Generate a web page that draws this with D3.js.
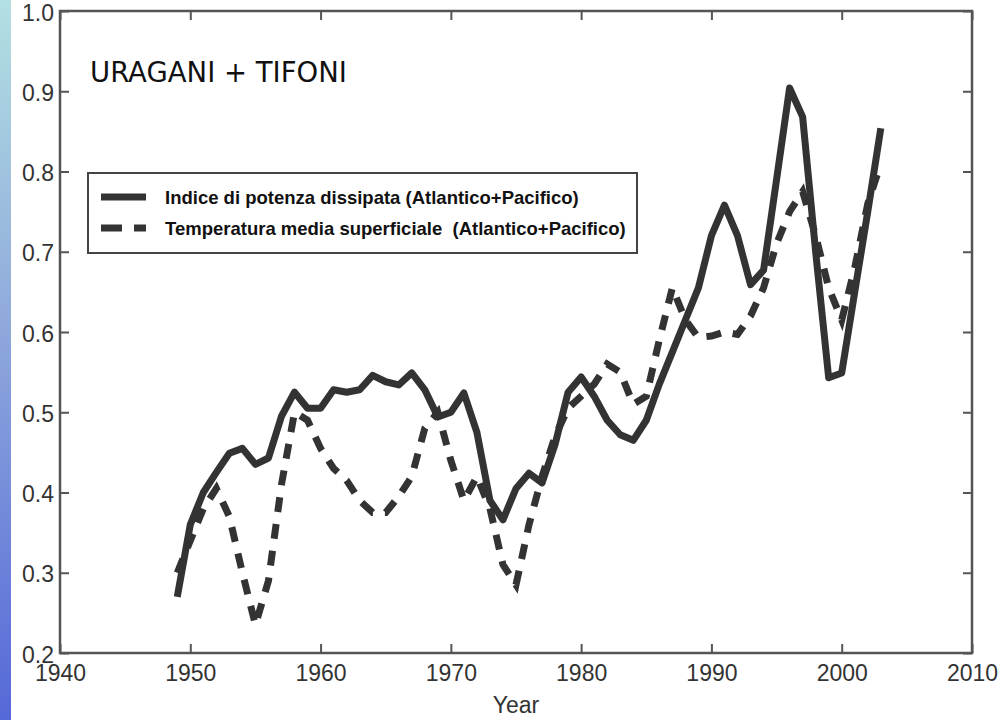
<!DOCTYPE html>
<html>
<head>
<meta charset="utf-8">
<script src="https://cdn.jsdelivr.net/npm/d3@7/dist/d3.min.js"></script>
<style>
  body { margin: 0; background: #fff; }
  .tick text { font-family: "Liberation Sans", Arial, sans-serif; font-size: 23px; fill: #333; }
</style>
</head>
<body>
<div id="chart"></div>
<script>
// data
var years = d3.range(1949, 2004);
var powerIndex = [0.27, 0.36, 0.40, 0.425, 0.449, 0.455, 0.435, 0.443, 0.495, 0.525,
  0.505, 0.505, 0.528, 0.525, 0.528, 0.546, 0.538, 0.534, 0.549, 0.528,
  0.494, 0.50, 0.524, 0.475, 0.39, 0.366, 0.405, 0.424, 0.412, 0.46,
  0.525, 0.544, 0.52, 0.49, 0.472, 0.465, 0.49, 0.535, 0.575, 0.615,
  0.655, 0.72, 0.758, 0.72, 0.659, 0.677, 0.79, 0.904, 0.868, 0.70,
  0.543, 0.549, 0.65, 0.75, 0.854];
var seaTemp = [0.30, 0.34, 0.38, 0.405, 0.37, 0.30, 0.235, 0.29, 0.41, 0.50,
  0.49, 0.455, 0.43, 0.415, 0.39, 0.375, 0.375, 0.395, 0.42, 0.48,
  0.50, 0.44, 0.39, 0.42, 0.38, 0.31, 0.285, 0.36, 0.42, 0.47,
  0.505, 0.52, 0.535, 0.56, 0.55, 0.51, 0.52, 0.59, 0.655, 0.615,
  0.593, 0.595, 0.60, 0.597, 0.62, 0.655, 0.71, 0.75, 0.775, 0.72,
  0.655, 0.615, 0.68, 0.76, 0.81];
var xTicks = [1940, 1950, 1960, 1970, 1980, 1990, 2000, 2010];
var yTicks = [0.2, 0.3, 0.4, 0.5, 0.6, 0.7, 0.8, 0.9, 1.0];
var legendLabels = ["Indice di potenza dissipata (Atlantico+Pacifico)",
  "Temperatura media superficiale  (Atlantico+Pacifico)"];

var width = 1003, height = 720;
var margin = {top: 11, right: 31, bottom: 67, left: 60};

var svg = d3.select("#chart").append("svg")
  .attr("width", width).attr("height", height);

// blue strip on the left
var grad = svg.append("defs").append("linearGradient")
  .attr("id", "strip").attr("x1", 0).attr("y1", 0).attr("x2", 0).attr("y2", 1);
grad.append("stop").attr("offset", "0%").attr("stop-color", "#b3e0e2");
grad.append("stop").attr("offset", "45%").attr("stop-color", "#8fa9dc");
grad.append("stop").attr("offset", "100%").attr("stop-color", "#5568d8");
svg.append("rect").attr("x", 0).attr("y", 0).attr("width", 11).attr("height", height)
  .attr("fill", "url(#strip)");

var x = d3.scaleLinear().domain([1940, 2010]).range([margin.left, width - margin.right]);
var y = d3.scaleLinear().domain([0.2, 1.0]).range([height - margin.bottom, margin.top]);

var axisColor = "#555";
function styleAxis(g) {
  g.select(".domain").remove();
  g.selectAll(".tick line").attr("stroke", axisColor).attr("stroke-width", 2);
}

svg.append("g")
  .attr("transform", "translate(0," + y(0.2) + ")")
  .call(d3.axisBottom(x).tickValues(xTicks).tickFormat(d3.format("d")).tickSizeInner(-9).tickPadding(6))
  .call(styleAxis)
  .selectAll("text").attr("dy", "0.95em");
svg.append("g")
  .attr("transform", "translate(0," + y(1.0) + ")")
  .call(d3.axisTop(x).tickValues(xTicks).tickFormat("").tickSizeInner(-9))
  .call(styleAxis);
svg.append("g")
  .attr("transform", "translate(" + x(1940) + ",0)")
  .call(d3.axisLeft(y).tickValues(yTicks).tickFormat(d3.format(".1f")).tickSizeInner(-9).tickPadding(5))
  .call(styleAxis)
  .selectAll("text").attr("x", -6).attr("dy", "0.4em");
svg.append("g")
  .attr("transform", "translate(" + x(2010) + ",0)")
  .call(d3.axisRight(y).tickValues(yTicks).tickFormat("").tickSizeInner(-9))
  .call(styleAxis);

svg.append("rect")
  .attr("x", x(1940)).attr("y", y(1.0))
  .attr("width", x(2010) - x(1940)).attr("height", y(0.2) - y(1.0))
  .attr("fill", "none").attr("stroke", axisColor).attr("stroke-width", 2.5);

svg.append("text")
  .attr("x", (x(1940) + x(2010)) / 2).attr("y", 713)
  .attr("text-anchor", "middle")
  .style("font-family", "Liberation Sans, Arial, sans-serif").style("font-size", "23px").attr("fill", "#333")
  .text("Year");

var line = d3.line()
  .x(function(d, i) { return x(years[i]); })
  .y(function(d) { return y(d); });

var lineColor = "#333";
svg.append("path")
  .attr("d", line(seaTemp))
  .attr("fill", "none").attr("stroke", lineColor).attr("stroke-width", 7)
  .attr("stroke-dasharray", "15,12");
svg.append("path")
  .attr("d", line(powerIndex))
  .attr("fill", "none").attr("stroke", lineColor).attr("stroke-width", 7)
  .attr("stroke-linejoin", "round");

svg.append("text")
  .attr("x", 90).attr("y", 82)
  .style("font-family", "DejaVu Sans, Verdana, sans-serif").style("font-size", "27.5px").attr("fill", "#111")
  .text("URAGANI + TIFONI");

// legend
var lg = svg.append("g");
lg.append("rect").attr("x", 88).attr("y", 173).attr("width", 549).attr("height", 80)
  .attr("fill", "#fff").attr("stroke", "#444").attr("stroke-width", 2);
var rows = [{dash: null, label: legendLabels[0]}, {dash: "21,12", label: legendLabels[1]}];
rows.forEach(function(r, i) {
  var yy = 197 + i * 31;
  lg.append("line").attr("x1", 101).attr("x2", 146).attr("y1", yy).attr("y2", yy)
    .attr("stroke", lineColor).attr("stroke-width", 7)
    .attr("stroke-dasharray", r.dash);
  lg.append("text").attr("x", 165).attr("y", yy + 6.5)
    .style("font-family", "Liberation Sans, Arial, sans-serif").style("font-size", "18.5px")
    .style("font-weight", "bold").style("white-space", "pre").attr("fill", "#111")
    .text(r.label);
});
</script>
</body>
</html>
